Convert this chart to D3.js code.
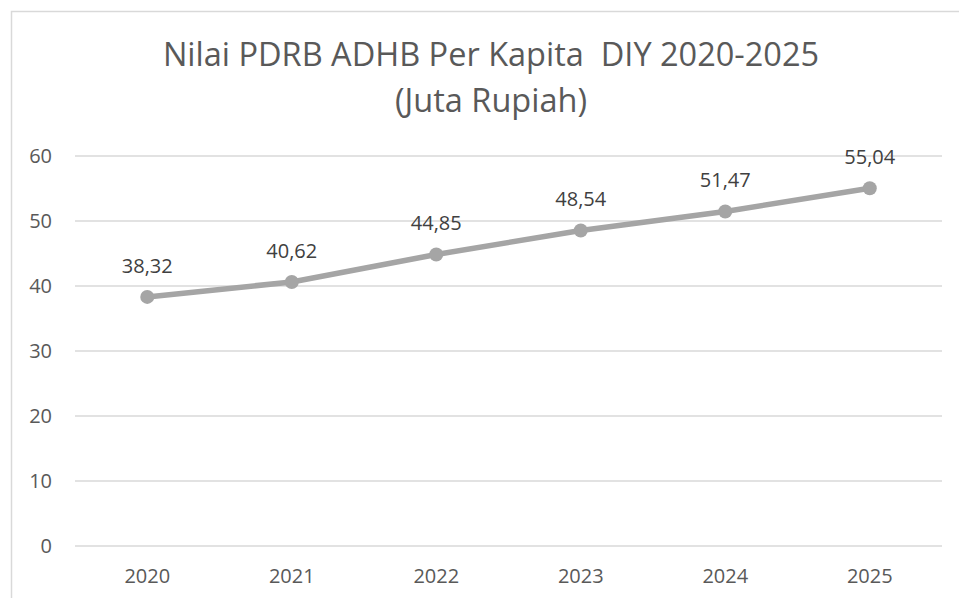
<!DOCTYPE html>
<html>
<head>
<meta charset="utf-8">
<script src="https://cdn.jsdelivr.net/npm/d3@7"></script>
<style>
  body { margin: 0; background: #fff; }
  text { font-family: "Open Sans", sans-serif; }
</style>
</head>
<body>
<div id="wrapper"></div>
<script>
// data
const years = ["2020", "2021", "2022", "2023", "2024", "2025"]
const values = [38.32, 40.62, 44.85, 48.54, 51.47, 55.04]
const yTicks = [0, 10, 20, 30, 40, 50, 60]
const titleLines = ["Nilai PDRB ADHB Per Kapita  DIY 2020-2025", "(Juta Rupiah)"]

function drawLineChart() {
  const width = 959
  const height = 598
  const margin = { top: 156, right: 17, bottom: 52, left: 75 }
  const boundedWidth = width - margin.left - margin.right
  const boundedHeight = height - margin.top - margin.bottom

  const svg = d3.select("#wrapper")
    .append("svg")
      .attr("width", width)
      .attr("height", height)

  // chart frame
  svg.append("rect")
      .attr("x", 11.5)
      .attr("y", 11.5)
      .attr("width", width)
      .attr("height", height)
      .attr("fill", "none")
      .attr("stroke", "#d9d9d9")
      .attr("stroke-width", 1.5)

  // title
  svg.selectAll(".title")
      .data(titleLines)
    .enter().append("text")
      .attr("class", "title")
      .attr("x", 491)
      .attr("y", (d, i) => 66 + i * 46)
      .attr("text-anchor", "middle")
      .attr("fill", "#595959")
      .style("font-size", "32.5px")
      .style("white-space", "pre")
      .text(d => d)

  const bounds = svg.append("g")
      .attr("transform", `translate(${margin.left}, ${margin.top})`)

  // scales
  const xScale = d3.scaleBand()
    .domain(years)
    .range([0, boundedWidth])

  const yScale = d3.scaleLinear()
    .domain([0, 60])
    .range([boundedHeight, 0])

  const xPos = d => xScale(d) + xScale.bandwidth() / 2

  // gridlines
  bounds.selectAll(".grid")
      .data(yTicks)
    .enter().append("line")
      .attr("x1", 0)
      .attr("x2", boundedWidth)
      .attr("y1", yScale)
      .attr("y2", yScale)
      .attr("stroke", "#d9d9d9")
      .attr("stroke-width", 1.5)

  // y labels
  bounds.selectAll(".y-label")
      .data(yTicks)
    .enter().append("text")
      .attr("x", -23)
      .attr("y", yScale)
      .attr("dy", "0.35em")
      .attr("text-anchor", "end")
      .attr("fill", "#595959")
      .style("font-size", "20px")
      .text(d => d)

  // x labels
  bounds.selectAll(".x-label")
      .data(years)
    .enter().append("text")
      .attr("x", xPos)
      .attr("y", boundedHeight + 37)
      .attr("text-anchor", "middle")
      .attr("fill", "#595959")
      .style("font-size", "20px")
      .text(d => d)

  // line
  const lineGenerator = d3.line()
    .x((d, i) => xPos(years[i]))
    .y(d => yScale(d))

  bounds.append("path")
      .attr("d", lineGenerator(values))
      .attr("fill", "none")
      .attr("stroke", "#a5a5a5")
      .attr("stroke-width", 5.5)
      .attr("stroke-linejoin", "round")

  bounds.selectAll(".dot")
      .data(values)
    .enter().append("circle")
      .attr("cx", (d, i) => xPos(years[i]))
      .attr("cy", d => yScale(d))
      .attr("r", 7)
      .attr("fill", "#a5a5a5")

  // data labels
  const formatValue = d => d3.format(".2f")(d).replace(".", ",")
  bounds.selectAll(".value-label")
      .data(values)
    .enter().append("text")
      .attr("x", (d, i) => xPos(years[i]))
      .attr("y", d => yScale(d) - 24)
      .attr("text-anchor", "middle")
      .attr("fill", "#404040")
      .style("font-size", "20px")
      .text(formatValue)
}
drawLineChart()
</script>
</body>
</html>
